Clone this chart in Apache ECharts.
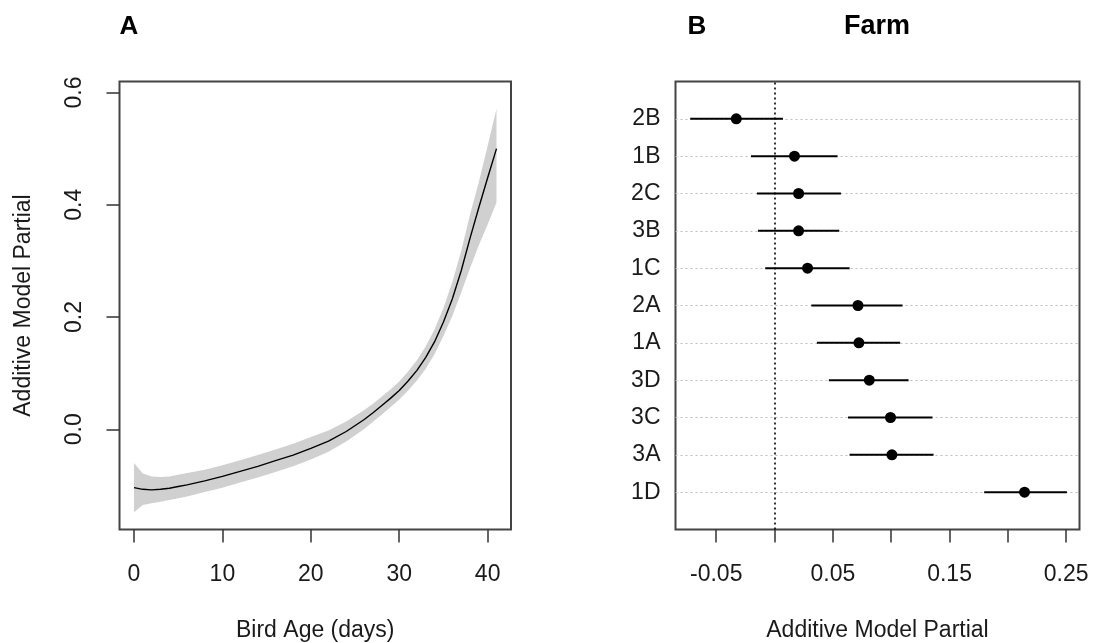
<!DOCTYPE html>
<html>
<head>
<meta charset="utf-8">
<script src="https://cdn.jsdelivr.net/npm/echarts@6/dist/echarts.min.js"></script>
<style>
html,body{margin:0;padding:0;background:#fff;}
#chart{width:1097px;height:643px;}
</style>
</head>
<body>
<div id="chart"></div>
<script>
// ---- Panel A data: smooth fit of bird age with confidence band ----
var ageDays = [0,1,2,3,4,5,6,8,10,12,14,16,18,20,22,24,26,27,28,29,30,31,32,33,34,35,36,37,38,39,40,41];
var ageFit  = [-0.104,-0.107,-0.108,-0.107,-0.105,-0.102,-0.099,-0.092,-0.084,-0.075,-0.066,-0.056,-0.046,-0.034,-0.021,-0.004,0.017,0.029,0.042,0.055,0.069,0.086,0.105,0.128,0.156,0.191,0.232,0.282,0.340,0.395,0.448,0.500];
var ageUpper = [-0.060,-0.079,-0.084,-0.085,-0.084,-0.081,-0.078,-0.072,-0.064,-0.055,-0.046,-0.036,-0.026,-0.014,-0.002,0.014,0.034,0.045,0.058,0.071,0.085,0.103,0.123,0.148,0.178,0.216,0.262,0.317,0.382,0.440,0.505,0.571];
var ageLower = [-0.148,-0.135,-0.132,-0.129,-0.126,-0.123,-0.120,-0.112,-0.104,-0.095,-0.086,-0.076,-0.066,-0.054,-0.040,-0.022,0.000,0.013,0.026,0.039,0.053,0.069,0.087,0.108,0.134,0.166,0.202,0.243,0.287,0.328,0.365,0.404];
var ageTicks = [0,10,20,30,40];
var partialTicksA = [0,0.2,0.4,0.6];

// ---- Panel B data: farm effects (top to bottom) ----
var farms    = ['2B','1B','2C','3B','1C','2A','1A','3D','3C','3A','1D'];
var farmEst  = [-0.0328,0.0171,0.0206,0.0206,0.0283,0.0715,0.0723,0.0812,0.0994,0.1006,0.2143];
var farmLo   = [-0.0723,-0.0202,-0.0151,-0.0142,-0.0080,0.0315,0.0363,0.0466,0.0630,0.0643,0.1797];
var farmHi   = [0.0072,0.0540,0.0569,0.0555,0.0643,0.1097,0.1077,0.1149,0.1354,0.1363,0.2506];
var farmTickValues  = [-0.05,0,0.05,0.10,0.15,0.20,0.25];
var farmLabelValues = [-0.05,0.05,0.15,0.25];

var FONT = "'Liberation Sans', Arial, sans-serif";
var n = farms.length;

var fitLine = ageDays.map(function(d,i){return [d, ageFit[i]];});
var bandData = ageDays.map(function(d,i){return [d, ageLower[i], ageUpper[i]];});
var farmPoints = farms.map(function(f,i){return [farmEst[i], n - i];});
var farmBars = farms.map(function(f,i){return [farmLo[i], farmHi[i], n - i];});

var chart = echarts.init(document.getElementById('chart'), null, {renderer:'canvas'});

var labelStyle = {color:'#1a1a1a', fontSize:23, fontFamily:FONT};
var tickStyle = {color:'#333', width:1.5};

var option = {
  animation:false,
  backgroundColor:'#ffffff',
  textStyle:{fontFamily:FONT},
  graphic:[
    {type:'text', x:129, y:27, style:{text:'A', font:'bold 26px '+FONT, fill:'#000', textAlign:'center', textVerticalAlign:'middle'}},
    {type:'text', x:697, y:27, style:{text:'B', font:'bold 26px '+FONT, fill:'#000', textAlign:'center', textVerticalAlign:'middle'}},
    {type:'text', x:877, y:27, style:{text:'Farm', font:'bold 27px '+FONT, fill:'#000', textAlign:'center', textVerticalAlign:'middle'}}
  ],
  grid:[
    {left:119.5, top:81.5, width:391.5, height:448, show:true, borderColor:'#444', borderWidth:2, backgroundColor:'transparent', containLabel:false, outerBoundsMode:'none'},
    {left:675.5, top:81.5, width:404, height:448, show:true, borderColor:'#444', borderWidth:2, backgroundColor:'transparent', containLabel:false, outerBoundsMode:'none'}
  ],
  xAxis:[
    {type:'value', gridIndex:0, min:-1.64, max:42.64, position:'bottom',
     name:'Bird Age (days)', nameLocation:'middle', nameGap:90,
     nameTextStyle:labelStyle,
     axisLine:{show:false, onZero:false},
     axisTick:{show:true, inside:false, length:13, lineStyle:tickStyle, customValues:ageTicks},
     axisLabel:Object.assign({margin:34, customValues:ageTicks, formatter:function(v){return String(v);}}, labelStyle),
     splitLine:{show:false}},
    {type:'value', gridIndex:1, min:-0.0849, max:0.2614, position:'bottom',
     name:'Additive Model Partial', nameLocation:'middle', nameGap:90,
     nameTextStyle:labelStyle,
     axisLine:{show:false, onZero:false},
     axisTick:{show:true, inside:false, length:13, lineStyle:tickStyle, customValues:farmTickValues},
     axisLabel:Object.assign({margin:34, customValues:farmLabelValues, formatter:function(v){return v.toFixed(2);}}, labelStyle),
     splitLine:{show:false}}
  ],
  yAxis:[
    {type:'value', gridIndex:0, min:-0.1786, max:0.6196, position:'left',
     name:'Additive Model Partial', nameLocation:'middle', nameGap:84,
     nameTextStyle:labelStyle,
     axisLine:{show:false, onZero:false},
     axisTick:{show:true, inside:false, length:13, lineStyle:tickStyle, customValues:partialTicksA},
     axisLabel:Object.assign({margin:33, rotate:90, customValues:partialTicksA, formatter:function(v){return v.toFixed(1);}}, labelStyle),
     splitLine:{show:false}},
    {type:'value', gridIndex:1, min:0, max:12, interval:1, position:'left',
     axisLine:{show:false, onZero:false},
     axisTick:{show:false},
     axisLabel:Object.assign({margin:15, formatter:function(v){var k = n - v; return (v>=1 && v<=n) ? farms[k] : '';}}, labelStyle),
     splitLine:{show:true, showMinLine:false, showMaxLine:false, lineStyle:{color:'#bdbdbd', type:[2,3], width:1}}}
  ],
  series:[
    {type:'custom', xAxisIndex:0, yAxisIndex:0, data:bandData, silent:true, z:1,
     renderItem:function(params, api){
       if (params.dataIndex !== 0) return null;
       var pts = [];
       for (var i=0;i<bandData.length;i++) pts.push(api.coord([bandData[i][0], bandData[i][2]]));
       for (var j=bandData.length-1;j>=0;j--) pts.push(api.coord([bandData[j][0], bandData[j][1]]));
       return {type:'polygon', shape:{points:pts}, style:{fill:'#d0d0d0', stroke:null}};
     }},
    {type:'line', xAxisIndex:0, yAxisIndex:0, data:fitLine, showSymbol:false, smooth:false, silent:true, z:3,
     lineStyle:{color:'#000', width:1.4}},
    {type:'custom', xAxisIndex:1, yAxisIndex:1, data:farmBars, silent:true, z:3,
     renderItem:function(params, api){
       var a = api.coord([api.value(0), api.value(2)]);
       var b = api.coord([api.value(1), api.value(2)]);
       return {type:'line', shape:{x1:a[0], y1:a[1], x2:b[0], y2:b[1]}, style:{stroke:'#000', lineWidth:2}};
     }},
    {type:'scatter', xAxisIndex:1, yAxisIndex:1, data:farmPoints, symbol:'circle', symbolSize:11, silent:true, z:4,
     itemStyle:{color:'#000', opacity:1},
     markLine:{silent:true, symbol:'none', label:{show:false},
       lineStyle:{color:'#000', type:[2,3], width:1.6},
       data:[{xAxis:0}]}}
  ]
};
chart.setOption(option);
</script>
</body>
</html>
